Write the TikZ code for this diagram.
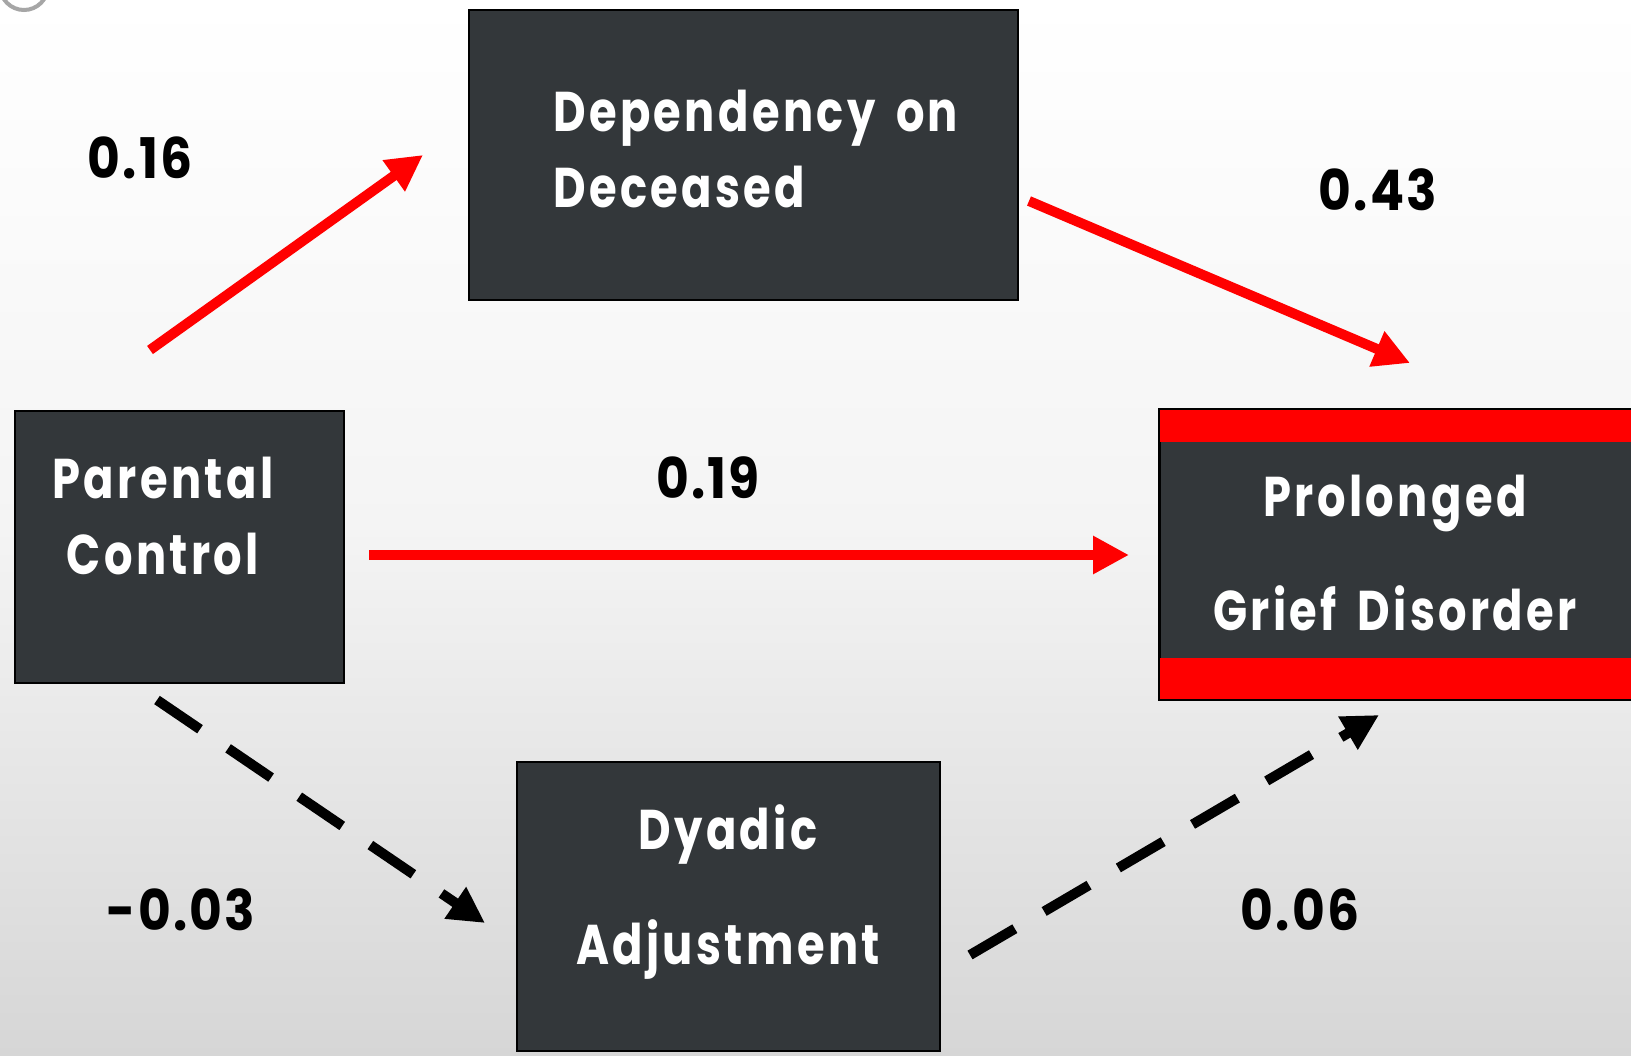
\documentclass[tikz,border=0pt]{standalone}
\usepackage{fontspec}
\setmainfont{Poppins}[FakeStretch=0.8, LetterSpace=6, WordSpace=1.6]
\newfontfamily\coeffont{Poppins}[FakeStretch=0.9, LetterSpace=4]
\usetikzlibrary{arrows.meta}
\definecolor{boxgray}{RGB}{51,55,58}
\definecolor{bgbottom}{RGB}{214,214,214}
\tikzset{
  box/.style={draw=black, line width=2pt, fill=boxgray, inner sep=0pt},
  boxtext/.style={text=white, inner sep=0pt, font=\bfseries\fontsize{56}{76}\selectfont},
  coef/.style={text=black, inner sep=0pt, font=\coeffont\bfseries\fontsize{56}{60}\selectfont},
  redarrow/.style={draw=red, line width=10pt, -{Triangle[length=36pt,width=36pt]}},
  blkarrow/.style={draw=black, line width=10pt, dash pattern=on 52pt off 34pt, -{Triangle[length=36pt,width=36pt]}}
}
\begin{document}
\begin{tikzpicture}[x=1pt,y=-1pt]
\useasboundingbox (0,0) rectangle (1631,1056);
\shade[top color=white, bottom color=bgbottom, middle color={rgb,255:red,244;green,244;blue,244}] (0,0) rectangle (1631,1056);
\draw[gray!70, line width=4pt] (24,-14) circle (24pt);
% boxes
\node[box, minimum width=549pt, minimum height=290pt] (dep) at (743.5,155) {};
\node[box, minimum width=329pt, minimum height=272pt] (par) at (179.5,547) {};
\node[box, minimum width=423pt, minimum height=289pt] (dya) at (728.5,906.5) {};
\node[box, minimum width=473pt, minimum height=289pt] (pgd) at (1396.5,554.5) {};
\fill[red] ([shift={(1pt,-1pt)}]pgd.north west) rectangle ([yshift=-33pt]pgd.north east);
\fill[red] ([shift={(1pt,1pt)}]pgd.south west) rectangle ([yshift=42pt]pgd.south east);
\draw[line width=2pt] (pgd.north west) rectangle (pgd.south east);
% texts
\node[boxtext, align=left, anchor=west] (deptext) at (553,149) {Dependency on\\Deceased};
\node[boxtext, align=center] (partext) at (163,516) {Parental\\Control};
\node[boxtext, align=center, font=\bfseries\fontsize{56}{114}\selectfont] (pgdtext) at (1395,553) {Prolonged\\Grief Disorder};
\node[boxtext, align=center, font=\bfseries\fontsize{56}{115}\selectfont] (dyatext) at (728,892) {Dyadic\\Adjustment};
% coefficients
\node[coef] (c16) at (140,158) {0.16};
\node[coef] (c43) at (1378,190) {0.43};
\node[coef] (c19) at (708,478) {0.19};
\node[coef] (c03) at (181,910) {-0.03};
\node[coef] (c06) at (1300,910) {0.06};
% connector end points
\coordinate (s16) at (150,350);
\coordinate (t16) at (423,155);
\coordinate (s43) at (1029,201);
\coordinate (t43) at (1410,363);
\coordinate (s19) at (369,555);
\coordinate (t19) at (1129,555);
\coordinate (s03) at (157,700);
\coordinate (t03) at (485,923);
\coordinate (s06) at (970,955);
\coordinate (t06) at (1379,715);
% connectors
\draw[redarrow] (s16) -- (t16);
\draw[redarrow] (s43) -- (t43);
\draw[redarrow] (s19) -- (t19);
\draw[blkarrow] (s03) -- (t03);
\draw[blkarrow] (s06) -- (t06);
\end{tikzpicture}
\end{document}
